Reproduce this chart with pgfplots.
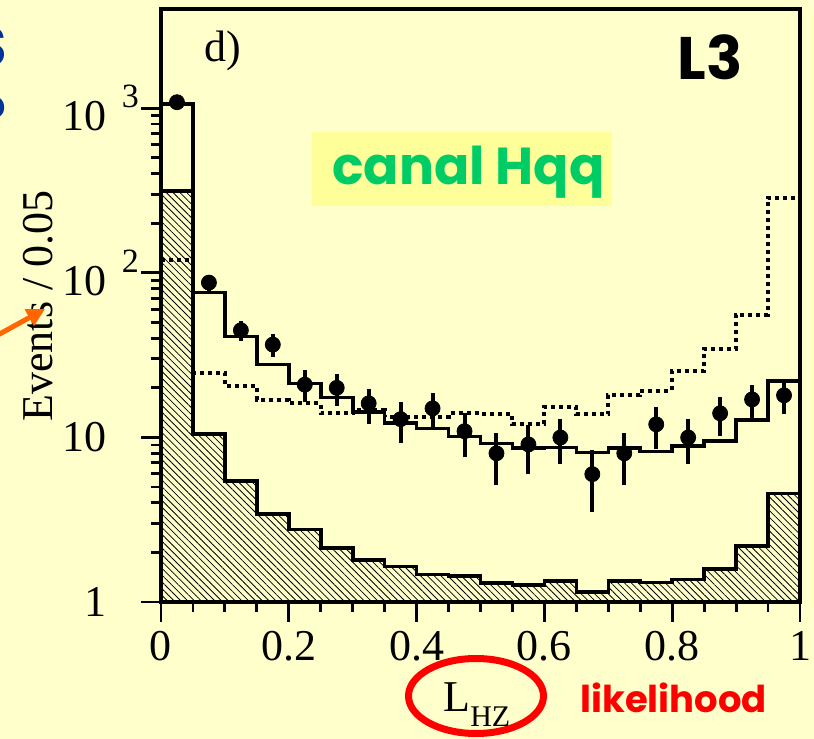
\documentclass[border=0pt]{standalone}
\usepackage{pgfplots}
\pgfplotsset{compat=1.18}
\usepackage{pgfplotstable}
\usepackage{fontspec}
\setmainfont{Liberation Serif}
\newfontfamily\comic{Poppins}
\usetikzlibrary{patterns.meta,arrows.meta}
\definecolor{bgyellow}{HTML}{FFFFCC}
\definecolor{boxyellow}{HTML}{FFFF99}
\definecolor{hqqgreen}{HTML}{00CC66}
\definecolor{slideblue}{HTML}{003399}
\definecolor{arroworange}{HTML}{FF6600}

% total background (solid line), left bin edges, last value repeated at x=1
\pgfplotstableread{
x y
0.00 1062
0.05 75.7
0.10 41.1
0.15 27.7
0.20 21.2
0.25 17.5
0.30 14.3
0.35 12.2
0.40 11.3
0.45 10.1
0.50 9.2
0.55 8.6
0.60 8.7
0.65 8.1
0.70 8.6
0.75 8.2
0.80 8.9
0.85 9.5
0.90 12.8
0.95 22.0
1.00 22.0
}\totalbkg
% hatched component
\pgfplotstableread{
x y
0.00 313
0.05 10.5
0.10 5.45
0.15 3.42
0.20 2.76
0.25 2.12
0.30 1.80
0.35 1.64
0.40 1.47
0.45 1.44
0.50 1.30
0.55 1.27
0.60 1.34
0.65 1.15
0.70 1.34
0.75 1.31
0.80 1.37
0.85 1.59
0.90 2.19
0.95 4.57
1.00 4.57
}\hatched
% dotted (signal)
\pgfplotstableread{
x y
0.00 119
0.05 24.6
0.10 20.5
0.15 16.8
0.20 16.1
0.25 14.0
0.30 14.6
0.35 13.3
0.40 13.3
0.45 14.0
0.50 13.8
0.55 12.1
0.60 15.3
0.65 13.8
0.70 18.2
0.75 19.2
0.80 25.3
0.85 34.3
0.90 55.7
0.95 286
1.00 286
}\signal
% data points
\pgfplotstableread{
x y ep em
0.025 1086 33 33
0.075 87.1 9.3 9.3
0.125 44.7 6.2 6.2
0.175 36.6 6.1 5.8
0.225 20.9 4.7 4.5
0.275 20.0 4.4 4.5
0.325 16.1 3.7 4.1
0.375 12.9 3.5 3.6
0.425 15.0 3.7 3.8
0.475 10.9 3.1 3.3
0.525 8.0 2.7 2.85
0.575 9.06 2.84 3.08
0.625 9.98 3.0 3.13
0.675 5.98 2.38 2.45
0.725 8.0 2.7 2.85
0.775 12.0 3.3 3.5
0.825 9.98 3.0 3.13
0.875 14.0 3.6 3.8
0.925 17.0 3.9 3.9
0.975 18.0 3.7 4.2
}\datapts

\begin{document}
\begin{tikzpicture}
\fill[bgyellow] (-80.5pt,-68.5pt) rectangle (326.5pt,301pt);
\useasboundingbox (-80.5pt,-68.5pt) rectangle (326.5pt,301pt);
\begin{axis}[
  scale only axis, width=319.5pt, height=296.5pt,
  xmin=0, xmax=1, ymin=1, ymax=4000, ymode=log,
  axis line style={line width=1.7pt},
  every tick/.style={line width=1.4pt, black},
  major tick length=10pt, minor tick length=5pt,
  tick align=outside, xtick pos=bottom, ytick pos=left,
  xtick={0,0.2,0.4,0.6,0.8,1}, xticklabels={0,0.2,0.4,0.6,0.8,1},
  minor x tick num=3,
  ytick={1,10,100,1000},
  yticklabels={1,10,{10\rlap{\hspace{7.5pt}\raisebox{11.5pt}{\fontsize{17}{17}\selectfont 2}}},{10\rlap{\hspace{7.5pt}\raisebox{11.5pt}{\fontsize{17}{17}\selectfont 3}}}},
  ticklabel style={font=\fontsize{22}{22}\selectfont},
  yticklabel style={xshift=-13.5pt},
  xticklabel style={yshift=-1pt},
  axis background/.style={fill=bgyellow},
  clip=true,
]
\addplot[const plot, draw=black, line width=1.8pt,
  pattern={Lines[angle=-45,distance=2.4pt,line width=0.4pt]}] table[x=x,y=y]{\hatched} \closedcycle;
\addplot[const plot, draw=black, line width=2pt, dash pattern=on 2pt off 2pt] table[x=x,y=y]{\signal};
\addplot[const plot, draw=black, line width=1.8pt] table[x=x,y=y]{\totalbkg};
\addplot[only marks, mark=*, mark size=3.75pt, black,
  error bars/.cd, y dir=both, y explicit,
  error bar style={line width=2pt}, error mark=none]
  table[x=x,y=y,y error plus=ep,y error minus=em]{\datapts};
\end{axis}
\begin{scope}[x=0.5pt,y=-0.5pt,shift={(-161,-602)}]
% labels
\node[rotate=90, font=\fontsize{22}{22}\selectfont, inner sep=0] at (38,306) {Events / 0.05};
\node[anchor=base west, inner sep=0, font=\fontsize{22}{22}\selectfont] at (443,712) {L\raisebox{-7.5pt}{\fontsize{15}{15}\selectfont HZ}};
\draw[red, line width=3.5pt] (476,696) ellipse [x radius=33.75pt, y radius=18.75pt];
\node[anchor=base west, inner sep=0, text=red, font=\comic\bfseries\fontsize{18.5}{18.5}\selectfont] at (580,713) {likelihood};
% inner texts
\node[anchor=base west, inner sep=0, font=\fontsize{22}{22}\selectfont] at (204,62) {d)};
\node[anchor=base east, inner sep=0, font=\comic\bfseries\fontsize{30}{30}\selectfont] at (743,80) {L3};
\fill[boxyellow] (312,132) rectangle (612,206);
\node[anchor=base west, inner sep=0, text=hqqgreen, font=\comic\bfseries\fontsize{26}{26}\selectfont] at (332,185) {canal Hqq};
% slide remnants at left edge (cut off in the reference too)
\node[anchor=east, inner sep=0, text=slideblue, font=\comic\bfseries\fontsize{28}{28}\selectfont] at (7,47) {S};
\node[anchor=east, inner sep=0, text=slideblue, font=\comic\bfseries\fontsize{28}{28}\selectfont] at (7,117) {?};
\draw[arroworange, line width=2.5pt, -{Triangle[length=9pt,width=9pt]}] (-4,336) -- (45,309);
\end{scope}
\end{tikzpicture}
\end{document}
